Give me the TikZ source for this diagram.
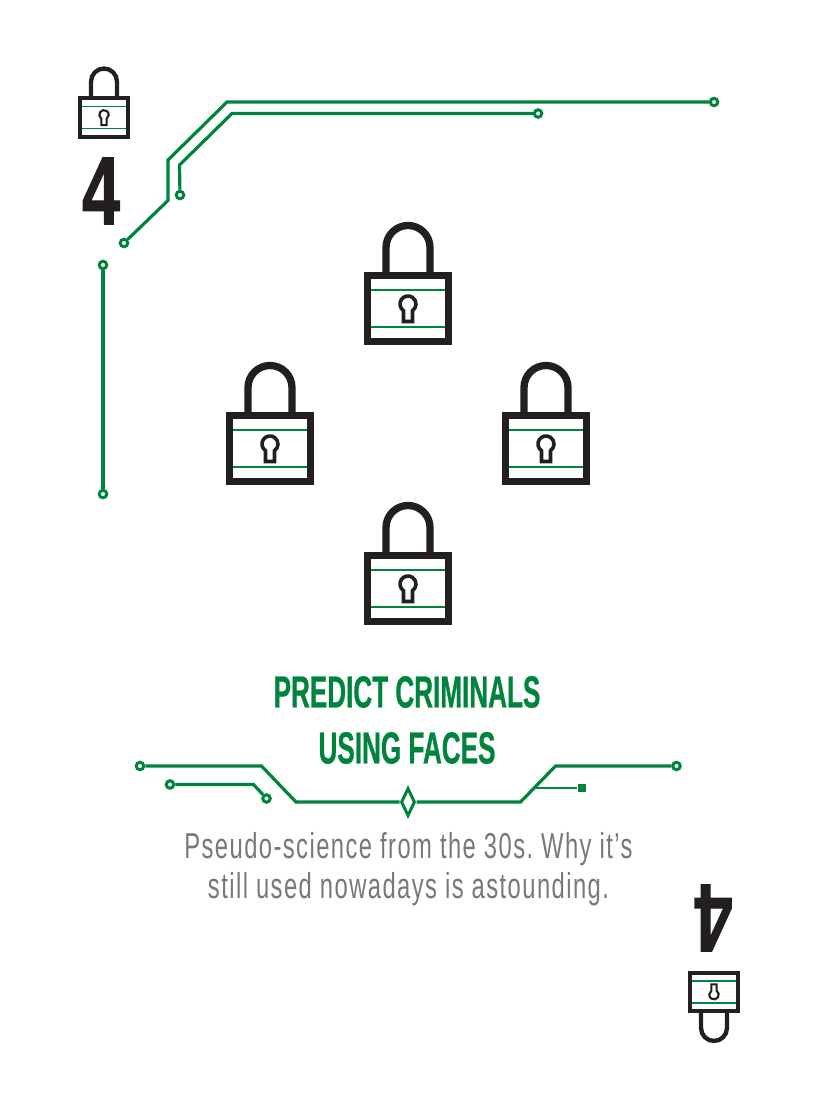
\documentclass[tikz,border=0pt]{standalone}
\usepackage{fontspec}
\usetikzlibrary{shapes.geometric}
\newfontfamily\headfont[FakeStretch=0.58,FakeBold=0.6]{Liberation Sans}
\newfontfamily\digitfont[FakeStretch=0.70,FakeBold=1.2]{Liberation Sans}
\newfontfamily\bodyfont[FakeStretch=0.66,LetterSpace=4]{Liberation Sans}
\definecolor{boardgreen}{RGB}{0,132,61}
\definecolor{lockblack}{RGB}{35,31,32}
\definecolor{textgray}{RGB}{119,120,123}
\tikzset{
    trace/.style = {draw=boardgreen, line width=3.2pt, line join=miter},
    pad/.style = {draw=boardgreen, fill=white, circle, line width=3pt, inner sep=0pt, minimum size=7.5pt},
    pics/lock/.style = {code = {
        \begin{scope}[scale=#1]
            \draw[lockblack, line width=#1*7.3pt] (-22,-33) -- (-22,-61) arc[start angle=180, end angle=360, radius=22] -- (22,-33);
            \draw[boardgreen, line width=#1*2.4pt] (-37,-18.5) -- (37,-18.5) (-37,18.5) -- (37,18.5);
            \draw[lockblack, line width=#1*7.3pt] (-40.25,-32.75) rectangle (40.25,32.75);
            \draw[lockblack, line width=#1*3.6pt] (-4.5,13) -- (-4.5,2.1) arc[start angle=124.2, end angle=415.8, radius=8] -- (4.5,13) -- cycle;
        \end{scope}
    }}
}
\begin{document}
\begin{tikzpicture}[x=1pt, y=-1pt]
    \useasboundingbox (0,0) rectangle (816,1110);

    \pic (lockA) at (104,117.5) {lock=0.59};
    \pic (lockB) at (408,308.5) {lock=1};
    \pic (lockC) at (270,448.5) {lock=1};
    \pic (lockD) at (546,448.5) {lock=1};
    \pic (lockE) at (408,588.5) {lock=1};
    \pic[rotate=180] (lockF) at (714,992) {lock=0.59};

    \node[lockblack, font=\digitfont\bfseries\fontsize{97}{97}\selectfont] (topfour) at (101,191) {4};
    \node[lockblack, rotate=180, font=\digitfont\bfseries\fontsize{97}{97}\selectfont] (botfour) at (713.5,918) {4};

    \node[boardgreen, align=center, font=\headfont\bfseries\fontsize{45}{56}\selectfont] (title) at (407,720) {PREDICT CRIMINALS\\USING FACES};
    \node[textgray, align=center, font=\bodyfont\frenchspacing\fontsize{36}{40}\selectfont] (blurb) at (408.5,869) {Pseudo-science from the 30s. Why it’s\\still used nowadays is astounding.};

    % top traces
    \node[pad] (padA) at (124,243) {};
    \node[pad] (padB) at (714,102) {};
    \node[pad] (padC) at (180,195) {};
    \node[pad] (padD) at (538,113.5) {};
    \node[pad] (padE) at (103,265) {};
    \node[pad] (padF) at (103,494) {};
    \draw[trace] (padA) -- (168,200.5) -- (168,160) -- (227,102) -- (padB);
    \draw[trace] (padC) -- (179.5,165) -- (232,113.5) -- (padD);
    \draw[trace] (padE) -- (padF);

    % bottom traces
    \node[pad] (padG) at (140,766) {};
    \node[pad] (padH) at (170,784.5) {};
    \node[pad] (padI) at (266.5,798.5) {};
    \node[pad] (padJ) at (676.5,766) {};
    \node[draw=boardgreen, line width=3pt, fill=white, diamond, aspect=0.5, inner sep=0pt, minimum width=14pt, minimum height=28pt] (gem) at (408,802) {};
    \node[fill=boardgreen, inner sep=0pt, minimum size=8pt] (stub) at (581.5,788) {};
    \coordinate (fork) at (535.5,788);
    \draw[trace] (padG) -- (261.5,766) -- (296,802) -- (gem);
    \draw[trace] (padH) -- (253.5,784.5) -- (padI);
    \draw[trace] (gem) -- (520.5,802) -- (555.5,766) -- (padJ);
    \draw[trace, line width=2.6pt] (fork) -- (stub);
\end{tikzpicture}
\end{document}
